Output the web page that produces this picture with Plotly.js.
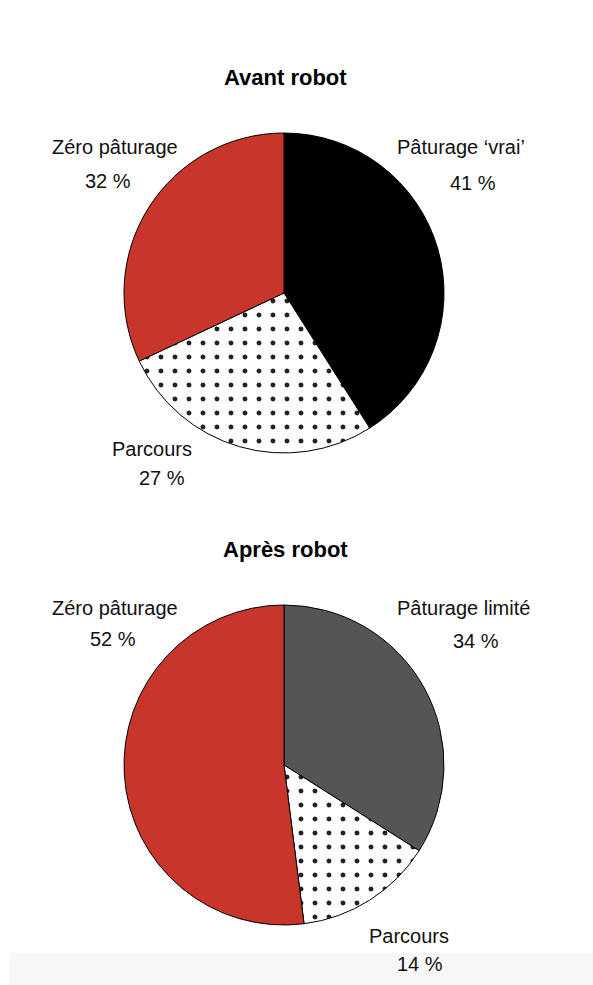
<!DOCTYPE html>
<html>
<head>
<meta charset="utf-8">
<script src="https://cdn.plot.ly/plotly-3.0.1.min.js"></script>
<style>html,body{margin:0;padding:0;background:#fff;}#chart{width:593px;height:985px;}</style>
</head>
<body>
<div id="chart"></div>
<script>
const titles = ["Avant robot", "Après robot"];
const avantLabels = ["Pâturage ‘vrai’", "Parcours", "Zéro pâturage"];
const avantValues = [41, 27, 32];
const apresLabels = ["Pâturage limité", "Parcours", "Zéro pâturage"];
const apresValues = [34, 14, 52];
const avantColors = ["#000000", "#ffffff", "#c8352b"];
const apresColors = ["#555555", "#ffffff", "#c8352b"];
const avantPatterns = ["", ".", ""];
const apresPatterns = ["", ".", ""];

const W = 593, H = 985;
function px(x){return x / W;}
function py(y){return 1 - y / H;}

function pieTrace(labels, values, colors, patterns, top){
  return {
    type: "pie",
    labels: labels,
    values: values,
    sort: false,
    direction: "clockwise",
    rotation: 0,
    textinfo: "none",
    hoverinfo: "label+percent",
    marker: {
      colors: colors,
      line: {color: "#000", width: 1},
      pattern: {shape: patterns, fgcolor: "#222", bgcolor: "#fff", size: 14, solidity: 0.1, fillmode: "replace"}
    },
    domain: {x: [px(124), px(444)], y: [py(top + 320), py(top)]},
    showlegend: false
  };
}

const data = [
  pieTrace(avantLabels, avantValues, avantColors, avantPatterns, 133),
  pieTrace(apresLabels, apresValues, apresColors, apresPatterns, 605)
];

const font = {family: "Liberation Sans, Arial, sans-serif", size: 20, color: "#111"};
function ann(text, x, y, f){
  return {text: text, x: px(x), y: py(y), xref: "paper", yref: "paper", showarrow: false,
          xanchor: "center", yanchor: "middle", font: f || font};
}
const tfont = {family: "Liberation Sans, Arial, sans-serif", size: 22, color: "#000"};

const annotations = [
  ann("<b>" + titles[0] + "</b>", 285, 77, tfont),
  ann("<b>" + titles[1] + "</b>", 285, 549, tfont),
  ann(avantLabels[2], 115, 147), ann(avantValues[2] + " %", 108, 181),
  ann(avantLabels[0], 461, 147), ann(avantValues[0] + " %", 473, 183),
  ann(avantLabels[1], 152, 449), ann(avantValues[1] + " %", 162, 478),
  ann(apresLabels[2], 115, 608), ann(apresValues[2] + " %", 113, 639),
  ann(apresLabels[0], 463, 608), ann(apresValues[0] + " %", 476, 641),
  ann(apresLabels[1], 409, 936), ann(apresValues[1] + " %", 420, 964)
];

const layout = {
  width: W, height: H,
  margin: {l: 0, r: 0, t: 0, b: 0},
  paper_bgcolor: "#fff",
  annotations: annotations,
  shapes: [{type: "rect", xref: "paper", yref: "paper", x0: px(10), x1: 1, y0: 0, y1: py(953),
            fillcolor: "#f7f7f7", line: {width: 0}, layer: "below"}]
};

Plotly.newPlot("chart", data, layout, {staticPlot: true});
</script>
</body>
</html>
